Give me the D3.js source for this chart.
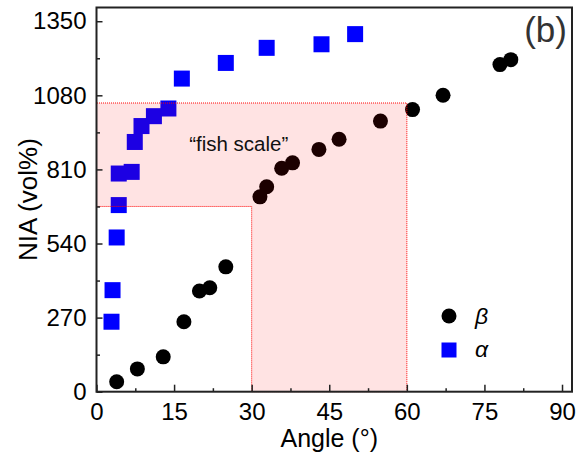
<!DOCTYPE html>
<html>
<head>
<meta charset="utf-8">
<script src="https://cdn.jsdelivr.net/npm/d3@7"></script>
<style>
  body { margin: 0; background: #fff; }
  svg { display: block; font-family: Arial, "Liberation Sans", sans-serif; }
</style>
</head>
<body>
<div id="chart"></div>
<script>
// β phase (circles)
const betaAngle = [3.9, 7.9, 12.9, 16.9, 19.9, 21.9, 25.0, 31.6, 32.9, 35.8, 37.9, 43.0, 46.9, 54.9, 61.1, 67.0, 78.0, 80.1];
const betaNIA = [36, 83, 127, 255, 367, 379, 455, 710, 747, 814, 834, 883, 920, 986, 1028, 1080, 1192, 1210];

// α phase (squares)
const alphaAngle = [2.9, 3.1, 3.9, 4.3, 4.3, 6.8, 7.4, 8.7, 11.1, 13.9, 16.5, 25.0, 32.9, 43.5, 50.0];
const alphaNIA = [255, 370, 562, 680, 795, 801, 910, 968, 1004, 1032, 1141, 1198, 1253, 1266, 1303];

// ticks
const xTicks = [0, 15, 30, 45, 60, 75, 90];
const xMinor = [7.5, 22.5, 37.5, 52.5, 67.5, 82.5];
const yTicks = [0, 270, 540, 810, 1080, 1350];
const yMinor = [135, 405, 675, 945, 1215];

// "fish scale" region outline (angle, NIA)
const regionAngle = [0, 0, 60, 60, 30, 30];
const regionNIA = [675, 1052, 1052, 0, 0, 675];

const W = 577, H = 452;
const margin = { top: 7.5, right: 5, bottom: 60.3, left: 96.5 };
const width = W - margin.left - margin.right;
const height = H - margin.top - margin.bottom;

const svg = d3.select("#chart").append("svg")
    .attr("width", W)
    .attr("height", H);

const g = svg.append("g")
    .attr("transform", `translate(${margin.left},${margin.top})`);

const x = d3.scaleLinear().domain([0, 91.93]).range([0, width]);
const y = d3.scaleLinear().domain([0, 1400]).range([height, 0]);

// data points
const beta = betaAngle.map((a, i) => ({ a: a, v: betaNIA[i] }));
const alpha = alphaAngle.map((a, i) => ({ a: a, v: alphaNIA[i] }));

g.selectAll(".beta")
    .data(beta)
    .enter().append("circle")
    .attr("class", "beta")
    .attr("cx", d => x(d.a))
    .attr("cy", d => y(d.v))
    .attr("r", 7.5)
    .attr("fill", "#000");

const sq = 16;
g.selectAll(".alpha")
    .data(alpha)
    .enter().append("rect")
    .attr("class", "alpha")
    .attr("x", d => x(d.a) - sq / 2)
    .attr("y", d => y(d.v) - sq / 2)
    .attr("width", sq)
    .attr("height", sq)
    .attr("fill", "#0000ff");

// shaded region drawn on top, translucent red
const region = regionAngle.map((a, i) => [x(a), y(regionNIA[i])]);
g.append("path")
    .attr("d", d3.line()(region) + "Z")
    .attr("fill", "#ff0000")
    .attr("fill-opacity", 0.11)
    .attr("stroke", "#ff0000")
    .attr("stroke-width", 1)
    .attr("stroke-dasharray", "1,1");

g.append("text")
    .attr("x", x(27.5))
    .attr("y", y(877))
    .attr("text-anchor", "middle")
    .attr("font-size", 20.5)
    .attr("fill", "#111")
    .text("\u201cfish scale\u201d");

// axes, ticks pointing inward
const fs = 24;
g.append("g")
    .attr("transform", `translate(0,${height})`)
    .call(d3.axisBottom(x).tickValues(xTicks).tickFormat(d3.format("d"))
        .tickSizeInner(-7).tickSizeOuter(0).tickPadding(11));
g.append("g")
    .attr("transform", `translate(0,${height})`)
    .call(d3.axisBottom(x).tickValues(xMinor).tickSizeInner(-3.5).tickSizeOuter(0).tickFormat(""));

g.append("g")
    .call(d3.axisLeft(y).tickValues(yTicks).tickFormat(d3.format("d"))
        .tickSizeInner(-6).tickSizeOuter(0).tickPadding(10));
g.append("g")
    .call(d3.axisLeft(y).tickValues(yMinor).tickSizeInner(-3.5).tickSizeOuter(0).tickFormat(""));

g.selectAll(".domain").remove();
g.selectAll(".tick line").attr("stroke", "#222").attr("stroke-width", 1.5);
g.selectAll(".tick text")
    .attr("font-size", fs)
    .attr("font-family", "Arial, 'Liberation Sans', sans-serif")
    .attr("fill", "#000");

// frame
g.append("rect")
    .attr("width", width)
    .attr("height", height)
    .attr("fill", "none")
    .attr("stroke", "#222")
    .attr("stroke-width", 2);

// axis titles
svg.append("text")
    .attr("x", margin.left + x(45))
    .attr("y", 447)
    .attr("text-anchor", "middle")
    .attr("font-size", 25)
    .text("Angle (\u00b0)");

svg.append("text")
    .attr("transform", `translate(37,${margin.top + y(700)}) rotate(-90)`)
    .attr("text-anchor", "middle")
    .attr("font-size", 26)
    .text("NIA (vol%)");

// panel label
svg.append("text")
    .attr("x", 567)
    .attr("y", 42)
    .attr("text-anchor", "end")
    .attr("font-size", 35)
    .attr("fill", "#333")
    .text("(b)");

// legend
const legend = svg.append("g").attr("transform", "translate(449,316)");
legend.append("circle").attr("r", 7.5).attr("fill", "#000");
legend.append("rect")
    .attr("x", -7.5).attr("y", 26.5)
    .attr("width", 15).attr("height", 15)
    .attr("fill", "#0000ff");
legend.append("text")
    .attr("x", 26).attr("y", 8)
    .attr("font-size", 23)
    .attr("font-style", "italic")
    .text("\u03b2");
legend.append("text")
    .attr("x", 26).attr("y", 41)
    .attr("font-size", 23)
    .attr("font-style", "italic")
    .text("\u03b1");
</script>
</body>
</html>
